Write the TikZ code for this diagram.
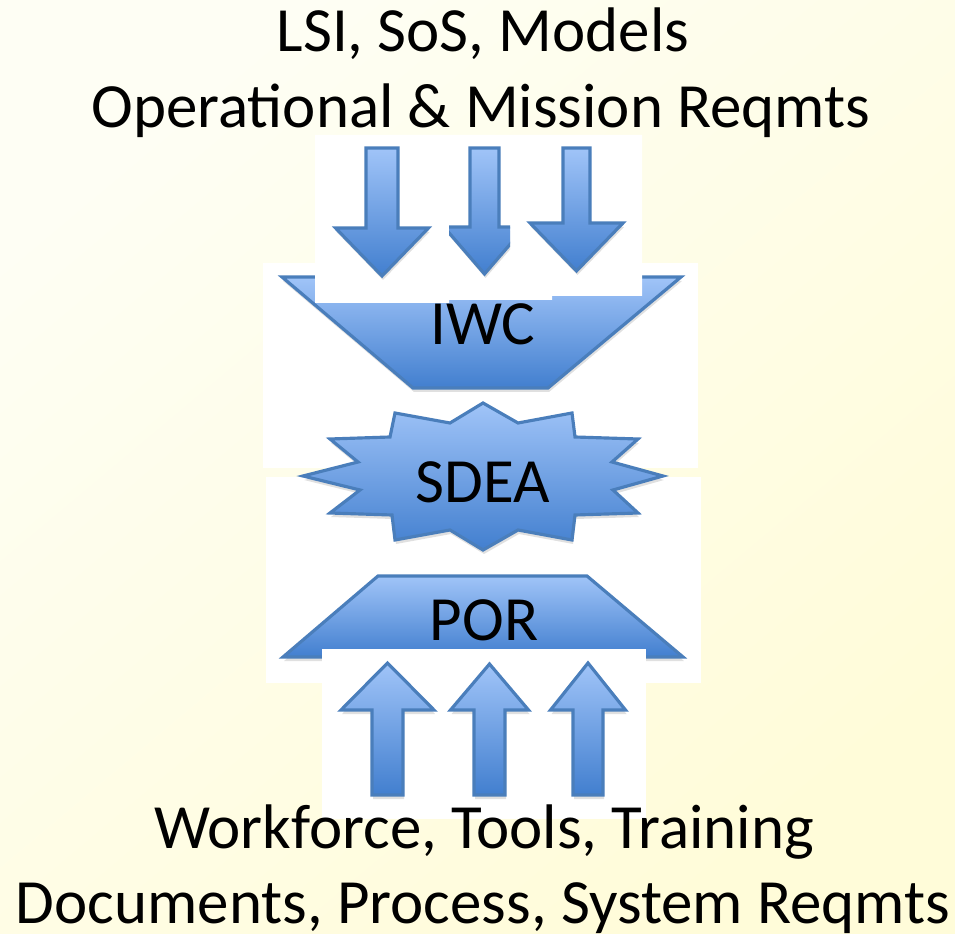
\documentclass[tikz,border=0pt]{standalone}
\usepackage{fontspec}
\setmainfont{Carlito}
\usetikzlibrary{shadows}

\definecolor{bglight}{HTML}{FEFEF4}
\definecolor{bgyellow}{HTML}{FFFCD9}
\definecolor{bluetop}{HTML}{A0C4F8}
\definecolor{bluebot}{HTML}{427FCF}
\definecolor{blueline}{HTML}{4A7EBB}

\tikzset{
  bluefill/.style={draw=blueline, line width=0.9pt, line join=miter,
    top color=bluetop, bottom color=bluebot,
    drop shadow={shadow xshift=0.01cm, shadow yshift=-0.04cm, opacity=0.12, fill=black}},
  patch/.style={fill=white},
  caption/.style={anchor=base, font=\fontsize{17.9pt}{21pt}\selectfont, inner sep=0pt},
  label/.style={anchor=base, font=\fontsize{17.9pt}{21pt}\selectfont, inner sep=0pt}
}

\begin{document}
\begin{tikzpicture}[x=0.01cm, y=-0.01cm]
	\useasboundingbox (0,0) rectangle (955,934);
	\begin{scope}[yscale=-1]
		\shade[top color=bglight, bottom color=bgyellow, shading angle=40] (0,0) rectangle (955,-934);
	\end{scope}

	% fondi
	\fill[patch] (263,263) rectangle (698,468);
	\fill[patch] (266,477) rectangle (701,683);

	% IWC
	\coordinate (iwc_tl) at (282,277);
	\coordinate (iwc_tr) at (681,277);
	\coordinate (iwc_br) at (548,388);
	\coordinate (iwc_bl) at (413,388);
	\draw[bluefill] (iwc_tl) -- (iwc_tr) -- (iwc_br) -- (iwc_bl) -- cycle;

	\fill[patch] (315,135) -- (642,135) -- (642,296) -- (552,296) -- (552,300)
		-- (449,300) -- (449,303) -- (315,303) -- cycle;

	% frecce in
	\foreach \cx/\sw/\hw/\hy/\ty in {382/16/46.5/228/276, 576.5/13.5/46.5/223/271}
		\draw[bluefill] ({\cx-\sw},148) -- ({\cx+\sw},148) -- ({\cx+\sw},\hy) -- ({\cx+\hw},\hy)
			-- (\cx,\ty) -- ({\cx-\hw},\hy) -- ({\cx-\sw},\hy) -- cycle;
	\begin{scope}
		\clip (449,140) rectangle (510,300);
		\draw[bluefill] (470,148) -- (499,148) -- (499,227) -- (525,227) -- (484.5,274)
			-- (444,227) -- (470,227) -- cycle;
	\end{scope}

	\node[label] (iwc) at (483,345) {IWC};

	% SDEA
	\draw[bluefill] (483,403) -- (518,423) -- (572,413) -- (575,437) -- (638,439)
		-- (612,462) -- (663,476) -- (613,490) -- (638,513) -- (575,515) -- (572,540)
		-- (518,530) -- (483,550) -- (450,530) -- (395,540) -- (392,515) -- (330,513)
		-- (360,490) -- (303,476) -- (358,462) -- (330,439) -- (390,437) -- (395,413)
		-- (450,423) -- cycle;
	\node[label] (sdea) at (483,502) {SDEA};

	% POR
	\coordinate (por_tl) at (378,576);
	\coordinate (por_tr) at (587,576);
	\coordinate (por_br) at (683,657);
	\coordinate (por_bl) at (283,657);
	\draw[bluefill] (por_tl) -- (por_tr) -- (por_br) -- (por_bl) -- cycle;
	\node[label] (por) at (484,640) {POR};

	\fill[patch] (322,649) rectangle (646,819);

	% frecce out
	\foreach \cx/\sw/\hw/\ty in {387.5/15.5/46.5/663, 489.5/15.5/39/664, 588/15/37.5/663}
		\draw[bluefill] ({\cx-\sw},795) -- ({\cx+\sw},795) -- ({\cx+\sw},710) -- ({\cx+\hw},710)
			-- (\cx,\ty) -- ({\cx-\hw},710) -- ({\cx-\sw},710) -- cycle;

	% testi
	\node[caption] (in1) at (483,52) {LSI, SoS, Models};
	\node[caption] (in2) at (481,128) {Operational \& Mission Reqmts};
	\node[caption] (out1) at (484,848) {Workforce, Tools, Training};
	\node[caption] (out2) at (483,923) {Documents, Process, System Reqmts};
\end{tikzpicture}
\end{document}
